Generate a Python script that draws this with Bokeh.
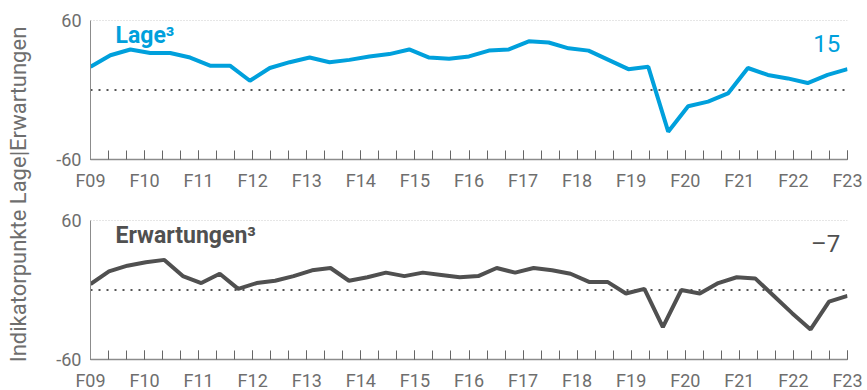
import numpy as np
from bokeh.plotting import figure
from bokeh.layouts import column, row
from bokeh.models import FixedTicker, Span, Label, Range1d
from bokeh.embed import file_html
from bokeh.resources import INLINE

# ---- data -------------------------------------------------------------
year_labels = ["F09", "F10", "F11", "F12", "F13", "F14", "F15", "F16",
               "F17", "F18", "F19", "F20", "F21", "F22", "F23"]
periods_per_year = 3

lage = [20, 30, 35, 32, 32, 28, 21, 21, 8, 19, 24, 28, 24, 26, 29, 31, 35,
        28, 27, 29, 34, 35, 42, 41, 36, 34, 26, 18, 20, -36, -14, -10, -3,
        19, 13, 10, 6, 13, 18]
erwartungen = [5, 16, 21, 24, 26, 12, 6, 14, 1, 6, 8, 12, 17, 19, 8, 11, 15,
               12, 15, 13, 11, 12, 19, 15, 19, 17, 14, 7, 7, -3, 1, -32, 0,
               -3, 6, 11, 10, -5, -20, -34, -10, -5]
lage_last = "15"
erw_last = "\u20137"
y_ticks = [-60, 60]
y_tick_labels = ["-60", "60"]

# ---- style ------------------------------------------------------------
FONT = "Roboto"
BLUE = "#00A0DC"
DARK = "#505050"
GRAY = "#6e6e6e"
AXIS = "#8c8c8c"
TITLE_W = 40

n_int = (len(year_labels) - 1) * periods_per_year


def make_panel(values, color, name, last, top_border, bottom_border):
    p = figure(frame_width=757, frame_height=139,
               x_range=Range1d(0, n_int), y_range=Range1d(-60, 60),
               output_backend="svg", toolbar_location=None,
               min_border_left=90 - TITLE_W, min_border_right=20,
               min_border_top=top_border, min_border_bottom=bottom_border)
    p.grid.visible = False
    p.outline_line_color = None
    p.background_fill_color = "white"

    xs = np.linspace(0, n_int, len(values))
    p.line(xs, values, line_color=color, line_width=4)

    p.add_layout(Span(location=60, dimension="width", line_color="#9a9a9a",
                      line_dash="1 2", line_width=1, level="underlay"))
    p.add_layout(Span(location=0, dimension="width", line_color="#555555",
                      line_dash="2 6", line_width=2, level="underlay"))

    xa = p.xaxis[0]
    xa.ticker = FixedTicker(ticks=list(range(0, n_int + 1, periods_per_year)),
                            minor_ticks=list(range(n_int + 1)))
    xa.major_label_overrides = {i * periods_per_year: l for i, l in enumerate(year_labels)}
    xa.axis_line_color = AXIS
    xa.axis_line_width = 1.5
    xa.major_tick_in = 9
    xa.major_tick_out = 0
    xa.minor_tick_in = 9
    xa.minor_tick_out = 0
    xa.major_tick_line_color = "#666666"
    xa.minor_tick_line_color = "#666666"
    xa.major_label_text_font = FONT
    xa.major_label_text_font_size = "18px"
    xa.major_label_text_color = GRAY
    xa.major_label_standoff = 10

    ya = p.yaxis[0]
    ya.ticker = FixedTicker(ticks=y_ticks, minor_ticks=[])
    ya.major_label_overrides = dict(zip(y_ticks, y_tick_labels))
    ya.axis_line_color = AXIS
    ya.axis_line_width = 1
    ya.major_tick_in = 0
    ya.major_tick_out = 0
    ya.major_label_text_font = FONT
    ya.major_label_text_font_size = "18px"
    ya.major_label_text_color = GRAY
    ya.major_label_standoff = 9

    p.add_layout(Label(x=1.39, y=47, text=name, text_color=color,
                       text_font=FONT, text_font_style="bold",
                       text_font_size="23px", text_baseline="alphabetic"))
    p.add_layout(Label(x=41.6, y=40, text=last, text_color=color,
                       text_font=FONT, text_font_size="24px",
                       text_align="right", text_baseline="alphabetic"))
    return p


top = make_panel(lage, BLUE, "Lage\u00b3", lage_last, 20, 36)
bottom = make_panel(erwartungen, DARK, "Erwartungen\u00b3", erw_last, 25, 30)

tf = figure(width=TITLE_W, height=390, x_range=Range1d(0, TITLE_W), y_range=Range1d(0, 390),
            output_backend="svg", toolbar_location=None, min_border=0,
            x_axis_location=None, y_axis_location=None)
tf.grid.visible = False
tf.outline_line_color = None
tf.add_layout(Label(x=18, y=196, text="Indikatorpunkte Lage|Erwartungen",
                    angle=np.pi / 2, text_align="center", text_baseline="middle",
                    text_font=FONT, text_font_size="22px", text_color=GRAY))

layout = row(tf, column(top, bottom))
open("out.html", "w").write(file_html(layout, INLINE))
